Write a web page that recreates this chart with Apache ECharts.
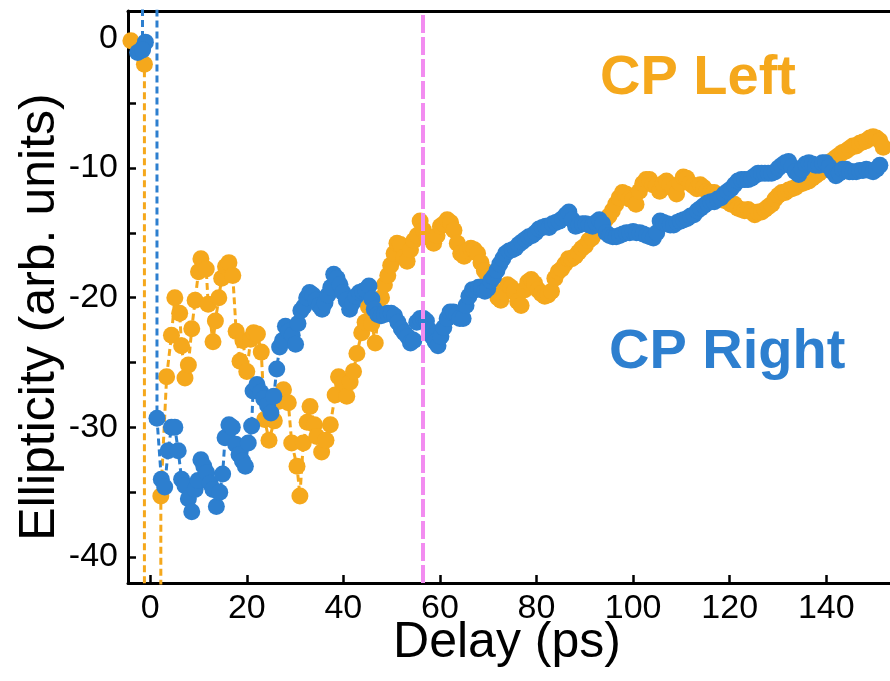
<!DOCTYPE html>
<html>
<head>
<meta charset="utf-8">
<script src="https://cdn.jsdelivr.net/npm/echarts@6/dist/echarts.min.js"></script>
<style>
html,body{margin:0;padding:0;background:#fff;}
#chart{width:890px;height:681px;}
</style>
</head>
<body>
<div id="chart"></div>
<script>
// ---- data (+/-400 = off-scale excursions) ----
const leftDelay = [-4.0,-1.2,-1.2,2.1,2.2,3.4,4.4,5.1,6.1,6.5,7.2,7.9,8.6,9.3,10.0,10.5,11.6,12.0,13.0,13.5,14.2,14.8,15.6,16.3,17.1,17.8,18.6,19.2,20.0,20.8,21.4,22.2,23.0,23.7,24.6,25.7,26.5,27.6,28.6,29.3,30.4,31.0,31.7,32.5,33.1,34.0,34.5,35.5,36.4,37.3,38.3,39.0,39.8,40.7,41.4,42.1,42.8,43.8,44.5,45.2,45.9,46.6,47.3,47.9,48.5,49.2,49.8,50.5,51.1,51.8,52.5,53.2,53.9,54.6,55.3,55.9,56.6,57.3,58.0,58.7,59.4,60.1,60.8,61.5,62.2,62.9,63.6,64.3,65.0,65.7,66.4,67.1,67.8,68.5,69.2,69.9,70.6,71.3,72.0,72.6,73.3,74.0,74.7,75.4,76.1,76.8,77.5,78.2,78.9,79.6,80.3,81.0,81.7,82.4,83.1,83.8,84.5,85.2,85.9,86.6,87.3,88.0,88.7,89.4,90.1,90.8,91.5,92.2,92.9,93.6,94.3,95.0,95.7,96.4,97.1,97.8,98.5,99.2,99.9,100.6,101.3,102.0,102.7,103.4,104.1,104.8,105.5,106.2,106.9,107.6,108.3,109.0,109.7,110.4,111.1,111.8,112.5,113.2,113.9,114.6,115.3,116.0,116.8,117.5,118.2,118.9,119.6,120.3,121.0,121.7,122.4,123.1,123.8,124.5,125.2,125.9,126.6,127.3,128.0,128.7,129.4,130.1,130.8,131.5,132.2,132.9,133.6,134.3,135.0,135.7,136.4,137.1,137.8,138.5,139.2,139.9,140.6,141.3,142.0,142.7,143.4,144.1,144.8,145.5,146.2,146.9,147.6,148.3,149.0,149.7,150.4,151.1,151.8];
const leftEllip = [-0.2,-2.0,-400,-400,-35.3,-26.1,-22.9,-20.0,-21.2,-23.7,-26.2,-25.2,-22.4,-20.2,-18.0,-17.0,-17.8,-20.5,-23.4,-21.8,-20.0,-18.5,-17.6,-17.3,-18.3,-22.6,-24.9,-23.3,-25.7,-23.2,-22.7,-22.8,-24.2,-29.4,-31.0,-29.5,-28.0,-27.1,-28.1,-31.2,-33.0,-35.3,-31.2,-29.6,-28.4,-29.8,-30.7,-31.9,-31.0,-29.8,-27.5,-26.1,-26.6,-27.6,-26.5,-25.7,-24.3,-22.7,-21.9,-20.7,-22.0,-23.5,-21.0,-20.0,-19.0,-18.3,-17.5,-16.6,-15.8,-15.9,-16.9,-17.2,-16.3,-15.6,-15.2,-14.1,-14.8,-15.3,-15.4,-15.8,-15.2,-14.5,-14.3,-14.0,-14.2,-14.8,-15.8,-16.6,-16.8,-16.4,-16.2,-16.3,-16.6,-17.3,-17.9,-18.4,-18.8,-19.5,-20.0,-20.2,-19.6,-19.0,-19.2,-19.5,-20.3,-20.6,-19.4,-18.8,-18.6,-18.9,-19.4,-19.7,-19.9,-19.8,-19.5,-18.5,-18.0,-17.8,-17.4,-17.0,-17.0,-16.8,-16.5,-16.2,-16.0,-15.6,-15.4,-15.0,-14.8,-14.4,-14.0,-13.7,-13.3,-12.8,-12.3,-11.9,-12.0,-12.4,-12.5,-12.8,-11.8,-11.2,-10.9,-10.9,-11.3,-11.4,-11.8,-11.2,-11.0,-11.3,-11.6,-12.0,-11.2,-10.7,-10.8,-11.2,-11.4,-11.6,-11.3,-11.5,-11.8,-11.9,-11.9,-12.1,-12.3,-12.5,-12.6,-12.8,-12.8,-13.1,-13.2,-13.3,-13.2,-13.4,-13.6,-13.4,-13.4,-13.2,-13.0,-12.8,-12.4,-12.1,-11.9,-11.9,-11.7,-11.6,-11.5,-11.3,-11.2,-11.1,-11.0,-10.8,-10.6,-10.4,-10.2,-9.9,-9.6,-9.4,-9.2,-9.0,-8.8,-8.7,-8.5,-8.3,-8.3,-8.1,-8.0,-7.9,-7.7,-7.6,-7.7,-7.9,-8.4];

const rightDelay = [-1.6,-1.6,-1.0,-2.6,-1.6,-1.6,1.4,1.4,2.3,3.0,3.7,4.4,5.1,5.8,6.5,7.2,7.9,8.6,9.3,9.9,10.5,11.1,11.7,12.4,13.0,13.7,14.4,15.0,15.5,16.3,17.0,17.7,18.4,19.1,19.7,20.3,21.0,21.3,22.1,22.9,23.5,24.3,25.0,25.6,26.2,26.8,27.4,28.0,28.7,29.4,30.1,30.6,31.2,31.8,32.4,33.0,33.7,34.3,35.0,35.6,36.2,36.8,37.4,38.0,38.7,39.3,39.9,40.6,41.3,41.9,42.6,43.3,44.0,44.6,45.3,45.9,46.4,47.1,47.8,48.5,49.2,49.9,50.6,51.3,52.0,52.6,53.3,53.9,54.6,55.2,55.9,56.6,57.2,57.8,58.4,59.0,59.6,60.2,60.8,61.5,62.1,62.8,63.5,64.1,64.8,65.4,66.0,66.7,67.3,68.0,68.6,69.3,69.9,70.5,71.1,71.8,72.4,73.0,73.6,74.3,75.0,75.6,76.3,77.0,77.7,78.4,79.1,79.8,80.5,81.2,81.9,82.6,83.3,84.0,84.7,85.4,86.1,86.7,87.4,88.1,88.8,89.5,90.2,90.9,91.6,92.3,93.0,93.7,94.4,95.1,95.8,96.5,97.2,97.9,98.6,99.3,100.0,100.7,101.4,102.1,102.8,103.5,104.2,104.9,105.6,106.3,107.0,107.7,108.4,109.1,109.8,110.5,111.2,111.9,112.6,113.3,114.0,114.7,115.4,116.1,116.8,117.5,118.2,118.9,119.6,120.3,121.0,121.7,122.4,123.1,123.8,124.5,125.2,125.9,126.6,127.3,128.0,128.7,129.4,130.1,130.8,131.5,132.2,132.9,133.6,134.3,135.0,135.7,136.4,137.1,137.8,138.5,139.2,139.9,140.6,141.3,142.0,142.7,143.4,144.1,144.8,145.5,146.2,146.9,147.6,148.3,149.0,149.7,150.4,151.1];
const rightEllip = [400,-0.8,-0.3,-1.1,-0.9,400,400,-29.3,-34.0,-34.6,-31.8,-30.0,-30.0,-31.8,-34.0,-34.5,-35.5,-36.5,-34.8,-34.1,-32.5,-33.0,-33.5,-34.3,-34.8,-36.1,-35.0,-33.6,-30.8,-29.8,-30.0,-31.3,-32.1,-32.6,-33.0,-31.2,-29.9,-27.2,-26.7,-27.3,-27.8,-28.3,-28.9,-27.6,-25.5,-23.8,-23.3,-22.2,-22.6,-22.9,-23.6,-22.0,-21.0,-20.7,-20.0,-19.6,-19.8,-20.2,-20.6,-20.9,-20.4,-19.8,-19.2,-18.2,-18.5,-19.0,-19.6,-20.2,-20.9,-20.4,-19.9,-19.6,-19.5,-19.4,-19.1,-20.1,-20.9,-21.3,-21.4,-21.3,-21.2,-21.2,-21.4,-21.9,-22.4,-22.7,-23.0,-23.5,-23.3,-21.9,-21.6,-21.6,-21.8,-22.5,-23.0,-23.4,-23.7,-23.0,-22.3,-21.6,-21.1,-21.1,-21.3,-21.6,-21.6,-20.6,-19.9,-19.4,-19.4,-19.2,-19.2,-19.5,-19.3,-18.7,-18.4,-17.9,-17.4,-17.0,-16.6,-16.4,-16.3,-16.2,-15.9,-15.7,-15.5,-15.3,-15.2,-15.0,-14.7,-14.6,-14.5,-14.6,-14.3,-14.2,-14.1,-13.9,-13.6,-13.4,-14.0,-14.5,-14.4,-14.3,-14.3,-14.4,-14.5,-14.2,-14.0,-14.3,-15.0,-15.2,-15.3,-15.3,-15.2,-15.1,-15.0,-15.0,-14.9,-15.0,-15.0,-15.1,-15.2,-15.3,-15.4,-15.0,-14.1,-14.2,-14.3,-14.4,-14.4,-14.2,-14.1,-14.0,-13.9,-13.7,-13.6,-13.3,-13.1,-12.9,-12.7,-12.6,-12.6,-12.4,-12.3,-12.0,-11.8,-11.6,-11.3,-11.0,-10.9,-10.9,-10.9,-10.8,-10.6,-10.4,-10.4,-10.4,-10.4,-10.4,-10.3,-10.0,-9.8,-9.6,-9.5,-9.9,-10.3,-10.5,-10.1,-9.7,-9.6,-9.7,-9.8,-9.8,-9.6,-9.6,-9.9,-10.3,-10.6,-10.4,-10.1,-10.1,-10.3,-10.3,-10.3,-10.2,-10.2,-10.1,-10.2,-10.3,-10.1,-9.8];

const markerDelay = [56.4];
const xTickValues = [0, 20, 40, 60, 80, 100, 120, 140];
const yTickValues = [-40, -35, -30, -25, -20, -15, -10, -5, 0];
const yLabelValues = [-40, -30, -20, -10, 0];

const ORANGE = '#F5A81C';
const BLUE = '#2D7FCF';
const PINK = '#F28CF0';
const FONT = '"Liberation Sans", Arial, sans-serif';

function pairs(xs, ys) { return xs.map((x, i) => [x, ys[i]]); }

const chart = echarts.init(document.getElementById('chart'), null, {renderer: 'canvas'});
const axisLineStyle = {color: '#000', width: 3};

chart.setOption({
  animation: false,
  backgroundColor: '#fff',
  grid: {left: 128, right: 0, top: 11, bottom: 98, containLabel: false},
  xAxis: [{
    type: 'value', min: -4.6, max: 153.2,
    axisLine: {show: true, onZero: false, lineStyle: axisLineStyle},
    axisTick: {show: true, inside: true, length: 8, customValues: xTickValues, lineStyle: {color: '#000', width: 2.5}},
    axisLabel: {customValues: xTickValues, fontSize: 34, color: '#000', fontFamily: FONT, margin: 9},
    splitLine: {show: false}
  }, {
    type: 'value', position: 'top', min: -4.6, max: 153.2,
    axisLine: {show: true, onZero: false, lineStyle: axisLineStyle},
    axisTick: {show: false}, axisLabel: {show: false}, splitLine: {show: false}
  }],
  yAxis: {
    type: 'value', min: -42, max: 2.1,
    axisLine: {show: true, onZero: false, lineStyle: axisLineStyle},
    axisTick: {show: true, inside: true, length: 8, customValues: yTickValues, lineStyle: {color: '#000', width: 2.5}},
    axisLabel: {customValues: yLabelValues, fontSize: 34, color: '#000', fontFamily: FONT, margin: 10},
    splitLine: {show: false}
  },
  series: [{
    name: 'CP Left', type: 'line', clip: true,
    data: pairs(leftDelay, leftEllip),
    symbol: 'circle', symbolSize: 17, showSymbol: true, showAllSymbol: true,
    itemStyle: {color: ORANGE},
    lineStyle: {color: ORANGE, width: 3, type: [7, 4]},
    z: 2
  }, {
    name: 'CP Right', type: 'line', clip: true,
    data: pairs(rightDelay, rightEllip),
    symbol: 'circle', symbolSize: 17, showSymbol: true, showAllSymbol: true,
    itemStyle: {color: BLUE},
    lineStyle: {color: BLUE, width: 3, type: [7, 4]},
    z: 3
  }, {
    name: 'marker', type: 'line', data: [], z: 10,
    markLine: {
      silent: true, symbol: 'none', animation: false,
      label: {show: false},
      lineStyle: {color: PINK, width: 4, type: [18, 4]},
      data: markerDelay.map(v => ({xAxis: v}))
    }
  }],
  graphic: [
    {type: 'text', left: 600, top: 51, style: {text: 'CP Left', fill: ORANGE, font: 'bold 56px ' + FONT}},
    {type: 'text', left: 609, top: 325, style: {text: 'CP Right', fill: BLUE, font: 'bold 56px ' + FONT}},
    {type: 'text', x: 507, y: 643, style: {text: 'Delay (ps)', fill: '#000', font: '50px ' + FONT, textAlign: 'center', textVerticalAlign: 'middle'}},
    {type: 'text', x: 40, y: 317, rotation: Math.PI / 2, style: {text: 'Ellipticity (arb. units)', fill: '#000', font: '50px ' + FONT, textAlign: 'center', textVerticalAlign: 'middle'}}
  ]
});
</script>
</body>
</html>
